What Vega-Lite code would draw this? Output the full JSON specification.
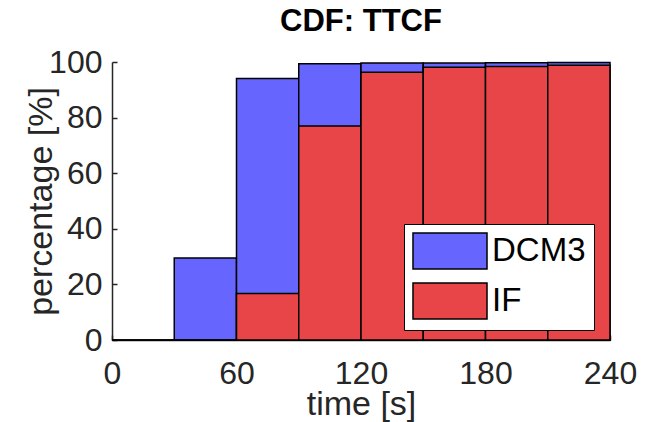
{
  "$schema": "https://vega.github.io/schema/vega-lite/v6.json",
  "autosize": "none",
  "width": 498,
  "height": 278,
  "padding": {"left": 112, "top": 62, "right": 46, "bottom": 82},
  "background": "white",
  "title": {"text": "CDF: TTCF", "fontSize": 31, "fontWeight": "bold", "font": "Liberation Sans", "color": "#000000", "offset": 8, "anchor": "middle"},
  "data": {"values": [
    {"series": "DCM3", "start": 0, "end": 30, "pct": 0},
    {"series": "DCM3", "start": 30, "end": 60, "pct": 29.5},
    {"series": "DCM3", "start": 60, "end": 90, "pct": 94.1},
    {"series": "DCM3", "start": 90, "end": 120, "pct": 99.4},
    {"series": "DCM3", "start": 120, "end": 150, "pct": 99.6},
    {"series": "DCM3", "start": 150, "end": 180, "pct": 99.6},
    {"series": "DCM3", "start": 180, "end": 210, "pct": 99.7},
    {"series": "DCM3", "start": 210, "end": 240, "pct": 99.8},
    {"series": "IF", "start": 0, "end": 30, "pct": 0},
    {"series": "IF", "start": 30, "end": 60, "pct": 0},
    {"series": "IF", "start": 60, "end": 90, "pct": 16.7},
    {"series": "IF", "start": 90, "end": 120, "pct": 77.0},
    {"series": "IF", "start": 120, "end": 150, "pct": 96.3},
    {"series": "IF", "start": 150, "end": 180, "pct": 98.1},
    {"series": "IF", "start": 180, "end": 210, "pct": 98.4},
    {"series": "IF", "start": 210, "end": 240, "pct": 98.8}
  ]},
  "mark": {"type": "bar", "stroke": "#000000", "strokeWidth": 1.5, "opacity": 1, "fillOpacity": 1},
  "encoding": {
    "x": {"field": "start", "type": "quantitative",
      "scale": {"domain": [0, 240], "nice": false, "zero": false},
      "axis": {"values": [0, 60, 120, 180, 240], "title": "time [s]", "grid": false,
        "labelFontSize": 32, "labelFont": "Liberation Sans", "labelColor": "#262626",
        "titleFontSize": 34, "titleFont": "Liberation Sans", "titleFontWeight": "normal", "titleColor": "#262626",
        "domainColor": "#262626", "domainWidth": 1.5, "tickColor": "#262626", "tickSize": -5, "tickWidth": 1.5,
        "labelPadding": 23, "titlePadding": -2, "labelFlush": false}},
    "x2": {"field": "end"},
    "y": {"field": "pct", "type": "quantitative", "stack": null,
      "scale": {"domain": [0, 100], "nice": false},
      "axis": {"values": [0, 20, 40, 60, 80, 100], "title": "percentage [%]", "grid": false,
        "labelFontSize": 32, "labelFont": "Liberation Sans", "labelColor": "#262626",
        "titleFontSize": 34, "titleFont": "Liberation Sans", "titleFontWeight": "normal", "titleColor": "#262626",
        "domainColor": "#262626", "domainWidth": 1.5, "tickColor": "#262626", "tickSize": -5, "tickWidth": 1.5,
        "labelPadding": 15, "titlePadding": -10}},
    "y2": {"datum": 0},
    "color": {"field": "series", "type": "nominal",
      "scale": {"domain": ["DCM3", "IF"], "range": ["#6666ff", "#e84548"]},
      "legend": {"title": null, "orient": "none", "legendX": 292, "legendY": 162}}
  },
  "config": {
    "view": {"stroke": null},
    "legend": {"fillColor": "white", "strokeColor": "#000000", "padding": 8,
      "symbolType": "M-2.056,-1H2.056V1H-2.056Z", "symbolSize": 1296, "symbolOffset": 19, "symbolStrokeColor": "#000000", "symbolStrokeWidth": 1.5, "symbolOpacity": 1,
      "labelFontSize": 33, "labelFont": "Liberation Sans", "labelColor": "#000000", "labelOffset": 23, "rowPadding": 8, "labelLimit": 300}
  }
}
